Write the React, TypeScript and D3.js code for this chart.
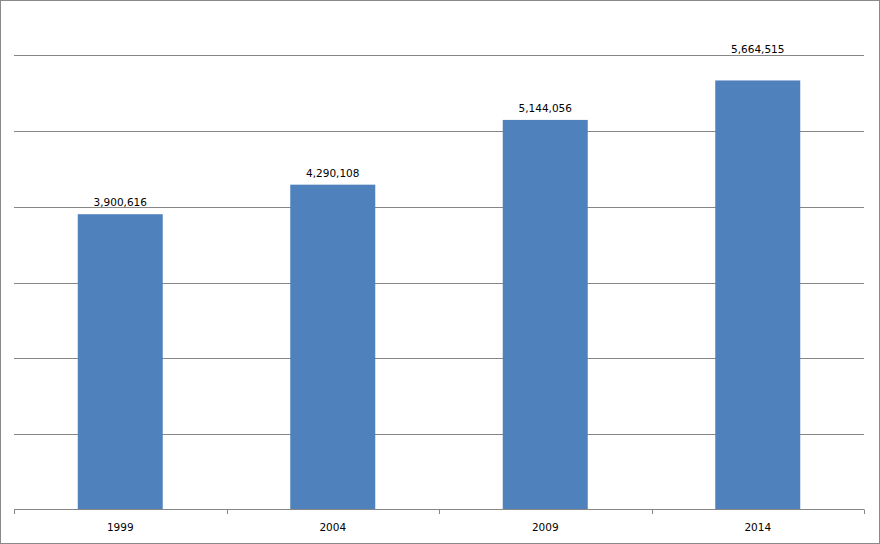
import React from "react";
import * as d3 from "d3";

const categories = ["1999", "2004", "2009", "2014"];
const values = [3900616, 4290108, 5144056, 5664515];
const yTicks = [1000000, 2000000, 3000000, 4000000, 5000000, 6000000];

export default function App() {
  const W = 880, H = 544;
  const left = 14, right = 864, top = 55, bottom = 510;
  const x = d3.scaleBand<string>().domain(categories).range([left, right]).paddingInner(0).paddingOuter(0);
  const y = d3.scaleLinear().domain([0, 6000000]).range([bottom, top]);
  const bw = x.bandwidth() * 0.4;
  const fmt = d3.format(",");
  const font = "'DejaVu Sans', Verdana, sans-serif";
  const boundaries = [...categories.map((c) => x(c)!), right];
  return (
    <svg width={W} height={H} style={{ position: "absolute", left: 0, top: 0, background: "#fff" }}>
      <rect x={0.5} y={0.5} width={W - 1} height={H - 1} fill="#fff" stroke="#898989" strokeWidth={1} />
      {yTicks.map((t) => (
        <line key={t} x1={left} x2={right} y1={Math.round(y(t)) + 0.5} y2={Math.round(y(t)) + 0.5} stroke="#868686" strokeWidth={1} />
      ))}
      {categories.map((c, i) => {
        const cx = x(c)! + x.bandwidth() / 2;
        const yt = y(values[i]);
        const off = i === categories.length - 1 ? 27 : 8;
        return (
          <g key={c}>
            <rect x={cx - bw / 2} y={yt} width={bw} height={bottom - yt} fill="#4F81BD" />
            <text x={cx} y={yt - off} textAnchor="middle" fontFamily={font} fontSize={10.5} fill="#000">
              {fmt(values[i])}
            </text>
            <text x={cx} y={531} textAnchor="middle" fontFamily={font} fontSize={10.5} fill="#000">
              {c}
            </text>
          </g>
        );
      })}
      <line x1={left} x2={right} y1={bottom - 0.5} y2={bottom - 0.5} stroke="#868686" strokeWidth={1} />
      {boundaries.map((b, i) => (
        <line key={i} x1={Math.round(b) + 0.5} x2={Math.round(b) + 0.5} y1={bottom - 0.5} y2={bottom + 4} stroke="#868686" strokeWidth={1} />
      ))}
    </svg>
  );
}
